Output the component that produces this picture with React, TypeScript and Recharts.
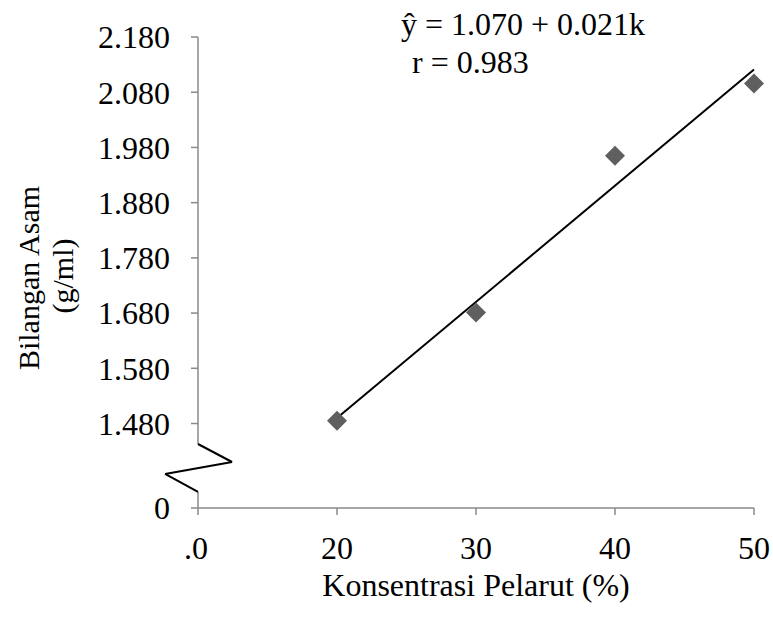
import React from "react";
import {
  ScatterChart,
  Scatter,
  XAxis,
  YAxis,
  ReferenceLine,
} from "recharts";

// concentration (%) vs acid number
const concentration = [20, 30, 40, 50];
const acidNumber = [1.485, 1.681, 1.965, 2.096];

// fitted line ŷ = 1.070 + 0.021k, read at both ends
const trendK = [20, 50];
const trendY = [1.49, 2.121];

const X_TICKS = [10, 20, 30, 40, 50];
const Y_TICKS = [1.48, 1.58, 1.68, 1.78, 1.88, 1.98, 2.08, 2.18];
// the axis is broken: the "0" tick sits at this value
const Y_BREAK_BASE = 1.327;

// zigzag of the axis break, in axis units
const BREAK_PATH = [
  { x: 10, y: 1.4429 },
  { x: 12.45, y: 1.4103 },
  { x: 7.63, y: 1.3886 },
  { x: 10, y: 1.356 },
];

const FONT = "'Liberation Serif', 'Times New Roman', serif";
const AXIS_GRAY = "#8a8a8a";

const points = concentration.map((k, i) => ({ x: k, y: acidNumber[i] }));
const trend = trendK.map((k, i) => ({ x: k, y: trendY[i] }));

function Diamond(props: any) {
  const { cx, cy } = props;
  const r = 10;
  return (
    <polygon
      points={`${cx},${cy - r} ${cx + r},${cy} ${cx},${cy + r} ${cx - r},${cy}`}
      fill="#5f5f5f"
    />
  );
}

function XTick(props: any) {
  const { x, y, payload } = props;
  const first = payload.value === 10;
  return (
    <text
      x={first ? x - 2 : x}
      y={y}
      dy="0.71em"
      textAnchor="middle"
      fontSize={32}
      fontFamily={FONT}
      fill="#000"
    >
      {first ? ".0" : payload.value}
    </text>
  );
}

export default function App() {
  return (
    <div
      style={{
        position: "absolute",
        left: 0,
        top: 0,
        background: "#fff",
        fontFamily: FONT,
      }}
    >
      <ScatterChart
        width={773}
        height={633}
        margin={{ top: 37, right: 19, bottom: 0, left: 0 }}
      >
        <XAxis
          type="number"
          dataKey="x"
          domain={[10, 50]}
          ticks={X_TICKS}
          height={125}
          stroke={AXIS_GRAY}
          axisLine={{ stroke: AXIS_GRAY, strokeWidth: 1.5 }}
          tickLine={{ stroke: AXIS_GRAY, strokeWidth: 1.5 }}
          tickSize={7}
          tickMargin={21}
          tick={<XTick />}
        />
        <YAxis
          type="number"
          dataKey="y"
          domain={[Y_BREAK_BASE, 2.18]}
          ticks={[Y_BREAK_BASE, ...Y_TICKS]}
          width={198}
          axisLine={false}
          tickLine={{ stroke: AXIS_GRAY, strokeWidth: 1.5 }}
          tickSize={7}
          tickMargin={21}
          tick={{ fontSize: 32, fontFamily: FONT, fill: "#000" }}
          tickFormatter={(v: number) => (v < 1.4 ? "0" : v.toFixed(3))}
        />
        <ReferenceLine
          segment={[{ x: 10, y: 2.18 }, BREAK_PATH[0]]}
          stroke={AXIS_GRAY}
          strokeWidth={1.5}
          ifOverflow="visible"
        />
        <ReferenceLine
          segment={[BREAK_PATH[3], { x: 10, y: Y_BREAK_BASE }]}
          stroke={AXIS_GRAY}
          strokeWidth={1.5}
          ifOverflow="visible"
        />
        {BREAK_PATH.slice(1).map((p, i) => (
          <ReferenceLine
            key={i}
            segment={[BREAK_PATH[i], p]}
            stroke="#000"
            strokeWidth={2}
            ifOverflow="visible"
          />
        ))}
        <Scatter
          data={trend}
          line={{ stroke: "#000", strokeWidth: 2 }}
          shape={() => <g />}
          isAnimationActive={false}
        />
        <Scatter data={points} shape={Diamond} isAnimationActive={false} />
        <text x={401} y={35} fontSize={32} fontFamily={FONT} fill="#000">
          ŷ = 1.070 + 0.021k
        </text>
        <text x={412} y={73} fontSize={32} fontFamily={FONT} fill="#000">
          r = 0.983
        </text>
        <text
          transform="translate(39,278) rotate(-90)"
          textAnchor="middle"
          fontSize={30}
          fontFamily={FONT}
          fill="#000"
        >
          Bilangan Asam
        </text>
        <text
          transform="translate(73,276) rotate(-90)"
          textAnchor="middle"
          fontSize={30}
          fontFamily={FONT}
          fill="#000"
        >
          (g/ml)
        </text>
        <text
          x={476}
          y={596}
          textAnchor="middle"
          fontSize={32}
          fontFamily={FONT}
          fill="#000"
        >
          Konsentrasi Pelarut (%)
        </text>
      </ScatterChart>
    </div>
  );
}
